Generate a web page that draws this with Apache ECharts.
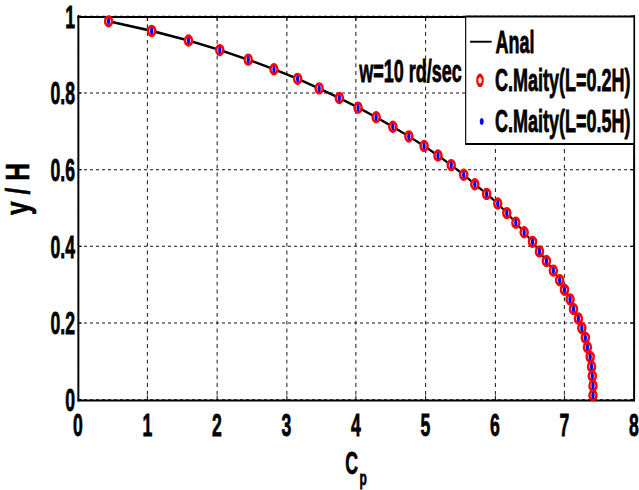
<!DOCTYPE html>
<html>
<head>
<meta charset="utf-8">
<script src="https://cdn.jsdelivr.net/npm/echarts@6/dist/echarts.min.js"></script>
<style>
html,body{margin:0;padding:0;background:#fff;}
#wrap{width:639px;height:490px;overflow:hidden;position:relative;background:#fff;}
#chart{width:852px;height:377px;transform:scale(0.75,1.3);transform-origin:0 0;}
</style>
</head>
<body>
<div id="wrap"><div id="chart"></div></div>
<script>
// y / H positions of the computed points (top to bottom)
var yOverH = [0.9875, 0.9625, 0.9375, 0.9125, 0.8875, 0.8625, 0.8375, 0.8125, 0.7875, 0.7625,
              0.7375, 0.7125, 0.6875, 0.6625, 0.6375, 0.6125, 0.5875, 0.5625, 0.5375, 0.5125,
              0.4875, 0.4625, 0.4375, 0.4125, 0.3875, 0.3625, 0.3375, 0.3125, 0.2875, 0.2625,
              0.2375, 0.2125, 0.1875, 0.1625, 0.1375, 0.1125, 0.0875, 0.0625, 0.0375, 0.0125];
// Cp values
var cpAnal = [0.44, 1.06, 1.59, 2.04, 2.45, 2.82, 3.16, 3.47, 3.76, 4.03,
              4.29, 4.53, 4.76, 4.98, 5.18, 5.37, 5.55, 5.71, 5.88, 6.04,
              6.17, 6.30, 6.42, 6.54, 6.64, 6.74, 6.84, 6.93, 7.00, 7.08,
              7.13, 7.20, 7.25, 7.30, 7.33, 7.37, 7.39, 7.40, 7.41, 7.41];
var cpL02 =  [0.44, 1.06, 1.59, 2.04, 2.45, 2.82, 3.16, 3.47, 3.76, 4.03,
              4.29, 4.53, 4.76, 4.98, 5.18, 5.37, 5.55, 5.71, 5.88, 6.04,
              6.17, 6.30, 6.42, 6.54, 6.64, 6.74, 6.84, 6.93, 7.00, 7.08,
              7.13, 7.20, 7.25, 7.30, 7.33, 7.37, 7.39, 7.40, 7.41, 7.41];
var cpL05 =  [0.44, 1.06, 1.59, 2.04, 2.45, 2.82, 3.16, 3.47, 3.76, 4.03,
              4.29, 4.53, 4.76, 4.98, 5.18, 5.37, 5.55, 5.71, 5.88, 6.04,
              6.17, 6.30, 6.42, 6.54, 6.64, 6.74, 6.84, 6.93, 7.00, 7.08,
              7.13, 7.20, 7.25, 7.30, 7.33, 7.37, 7.39, 7.40, 7.41, 7.41];
var seriesNames = ['Anal', 'C.Maity(L=0.2H)', 'C.Maity(L=0.5H)'];
var xTicks = {min: 0, max: 8, interval: 1};
var yTicks = {min: 0, max: 1, interval: 0.2};
var xName = 'C';
var xNameSub = 'p';
var yName = 'y / H';
var noteText = 'w=10 rd/sec';

var FF = "'Liberation Sans', Arial, sans-serif";
var TB = {textBorderColor: '#000', textBorderWidth: 0.6};

function pairs(xs, ys) { return xs.map(function (v, i) { return [v, ys[i]]; }); }

var xLine = {show: true, onZero: false, lineStyle: {color: '#000', width: 1.5}};
var yLine = {show: true, onZero: false, lineStyle: {color: '#000', width: 2.6}};
var xTick = {show: true, inside: true, length: 3.5, lineStyle: {color: '#000', width: 1.3}};
var yTick = {show: true, inside: true, length: 5, lineStyle: {color: '#000', width: 0.8}};
var labelStyle = Object.assign({color: '#000', fontSize: 23.5, fontWeight: 'bold', fontFamily: FF}, TB);
var legendText = Object.assign({fontSize: 24, fontWeight: 'bold', fontFamily: FF, color: '#000'}, TB);

var chart = echarts.init(document.getElementById('chart'), null, {renderer: 'svg'});
chart.setOption({
  animation: false,
  backgroundColor: '#fff',
  grid: {left: 104, top: 12.7, width: 741.3, height: 295, containLabel: false, outerBoundsMode: 'none'},
  xAxis: [{
    type: 'value', min: xTicks.min, max: xTicks.max, interval: xTicks.interval, position: 'bottom',
    axisLine: xLine, axisTick: xTick,
    splitLine: {show: true, lineStyle: {color: '#111', type: [3, 3], width: 1.3}},
    axisLabel: Object.assign({margin: 7}, labelStyle),
    name: '{a|' + xName + '}{b|' + xNameSub + '}', nameLocation: 'middle', nameGap: 19,
    nameTextStyle: {rich: {
      a: Object.assign({fontSize: 23.5, fontWeight: 'bold', fontFamily: FF, color: '#000'}, TB),
      b: Object.assign({fontSize: 16, fontWeight: 'bold', fontFamily: FF, color: '#000', padding: [22.8, 0, 0, 2]}, TB)
    }}
  }, {
    type: 'value', min: xTicks.min, max: xTicks.max, interval: xTicks.interval, position: 'top',
    axisLine: xLine, axisTick: xTick, splitLine: {show: false}, axisLabel: {show: false}
  }],
  yAxis: [{
    type: 'value', min: yTicks.min, max: yTicks.max, interval: yTicks.interval, position: 'left',
    axisLine: yLine, axisTick: yTick,
    splitLine: {show: true, lineStyle: {color: '#111', type: [4, 4], width: 0.8}},
    axisLabel: Object.assign({margin: 4}, labelStyle)
  }, {
    type: 'value', min: yTicks.min, max: yTicks.max, interval: yTicks.interval, position: 'right',
    axisLine: yLine, axisTick: yTick, splitLine: {show: false}, axisLabel: {show: false}
  }],
  legend: [{
    data: [seriesNames[0]], left: 626, top: 19.8, padding: 0, z: 10,
    itemWidth: 28.8, itemHeight: 1,
    itemStyle: {color: '#000', borderWidth: 0},
    lineStyle: {color: '#000', width: 1.5},
    textStyle: legendText
  }, {
    data: [seriesNames[1]], left: 634.85, top: 49.5, padding: 0, z: 10,
    itemWidth: 30, itemHeight: 7.5,
    itemStyle: {color: '#fff', borderColor: '#ff0000', borderWidth: 2.8},
    textStyle: legendText
  }, {
    data: [seriesNames[2]], left: 639.65, top: 81.1, padding: 0, z: 10,
    itemWidth: 25.4, itemHeight: 5.3,
    itemStyle: {color: '#0000ff', borderWidth: 0},
    textStyle: legendText
  }],
  graphic: [{
    type: 'rect', z: 3, silent: true,
    shape: {x: 620.9, y: 12.7, width: 224.4, height: 98.1},
    style: {fill: '#fff', stroke: '#000', lineWidth: 1.5}
  }, {
    type: 'text', z: 3, silent: true, left: 478.7, top: 42.6,
    style: {text: noteText, font: 'bold 24px ' + FF, fill: '#000', stroke: '#000', lineWidth: 0.6}
  }, {
    type: 'text', z: 3, silent: true, x: 23, y: 145.4, rotation: Math.PI / 2, scaleX: 0.43,
    style: {text: yName, font: 'bold 44px ' + FF, fill: '#000', stroke: '#000', lineWidth: 0.8,
            align: 'center', verticalAlign: 'middle'}
  }],
  series: [{
    name: seriesNames[0], type: 'line', data: pairs(cpAnal, yOverH), symbol: 'none', z: 2,
    lineStyle: {color: '#000', width: 2}, itemStyle: {color: '#000'}
  }, {
    name: seriesNames[1], type: 'scatter', data: pairs(cpL02, yOverH), symbol: 'circle', symbolSize: [9.5, 7], z: 2,
    itemStyle: {color: '#fff', borderColor: '#ff0000', borderWidth: 2.8, opacity: 1}
  }, {
    name: seriesNames[2], type: 'scatter', data: pairs(cpL05, yOverH), symbol: 'circle', symbolSize: [4.4, 5.4], z: 2,
    itemStyle: {color: '#0000ff', opacity: 1}
  }]
});
</script>
</body>
</html>
